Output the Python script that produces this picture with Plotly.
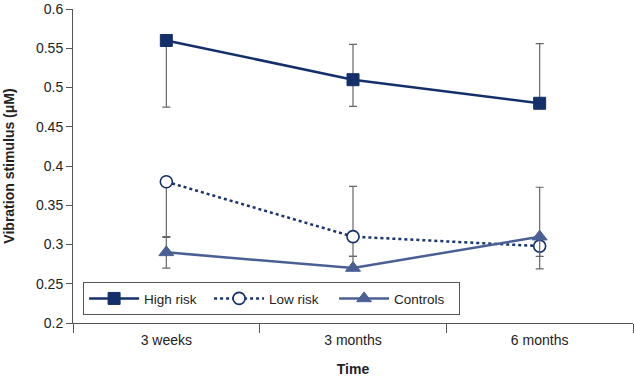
import plotly.graph_objects as go

categories = ["3 weeks", "3 months", "6 months"]

high_risk = [0.56, 0.51, 0.48]
high_err_plus = [0.0, 0.045, 0.076]
high_err_minus = [0.085, 0.034, 0.0]

low_risk = [0.38, 0.31, 0.298]
low_err_plus = [0.0, 0.064, 0.075]
low_err_minus = [0.071, 0.025, 0.013]

controls = [0.29, 0.27, 0.31]
ctrl_err_plus = [0.02, 0.015, 0.0]
ctrl_err_minus = [0.02, 0.0, 0.041]

y_ticks = [0.2, 0.25, 0.3, 0.35, 0.4, 0.45, 0.5, 0.55, 0.6]
y_ticktext = ["0.2", "0.25", "0.3", "0.35", "0.4", "0.45", "0.5", "0.55", "0.6"]

series = [
    ("High risk", high_risk, high_err_plus, high_err_minus, "#14306a", "solid",
     dict(symbol="square", size=12, color="#14306a", line=dict(color="#14306a", width=1))),
    ("Low risk", low_risk, low_err_plus, low_err_minus, "#1a3470", "dot",
     dict(symbol="circle", size=12, color="white", line=dict(color="#14306a", width=1.6))),
    ("Controls", controls, ctrl_err_plus, ctrl_err_minus, "#4a6095", "solid",
     dict(symbol="triangle-up", size=13, color="#4a6095", line=dict(color="#4a6095", width=1))),
]

fig = go.Figure()
for name, vals, ep, em, col, dash, mk in series:
    fig.add_trace(go.Scatter(
        x=categories, y=vals, name=name, mode="lines+markers",
        line=dict(color=col, width=2.5, dash=dash),
        marker=mk,
        error_y=dict(type="data", symmetric=False, array=ep, arrayminus=em,
                     color="#666666", thickness=1.2, width=4),
        cliponaxis=False,
    ))

font_family = "Liberation Sans, Arial, sans-serif"
fig.update_layout(
    width=634, height=379,
    margin=dict(l=73, r=1, t=7, b=56),
    paper_bgcolor="white", plot_bgcolor="white",
    font=dict(family=font_family, size=14, color="#222222"),
    showlegend=True,
    legend=dict(
        orientation="h", x=0.018, y=0.025, xanchor="left", yanchor="bottom",
        bordercolor="#555555", borderwidth=1, bgcolor="white",
        font=dict(size=13.5, color="#222222"),
        itemwidth=50,
        entrywidth=60, entrywidthmode="pixels",
    ),
    xaxis=dict(
        type="category", range=[-0.5, 2.5], tickson="boundaries",
        showline=True, linecolor="#555555", linewidth=1,
        ticks="outside", ticklen=9, tickcolor="#555555",
        ticklabelstandoff=4,
        showgrid=False, zeroline=False,
        title=dict(text="<b>Time</b>", font=dict(size=14), standoff=17),
    ),
    yaxis=dict(
        range=[0.2, 0.6001], tickvals=y_ticks, ticktext=y_ticktext,
        ticklabeloverflow="allow",
        showline=True, linecolor="#555555", linewidth=1,
        ticks="outside", ticklen=6, tickcolor="#555555",
        showgrid=False, zeroline=False,
        title=dict(text="<b>Vibration stimulus (μM)</b>", font=dict(size=14), standoff=18),
    ),
)

fig.write_html("out.html", post_script="document.body.style.margin='0';",
               config={"displayModeBar": False})
